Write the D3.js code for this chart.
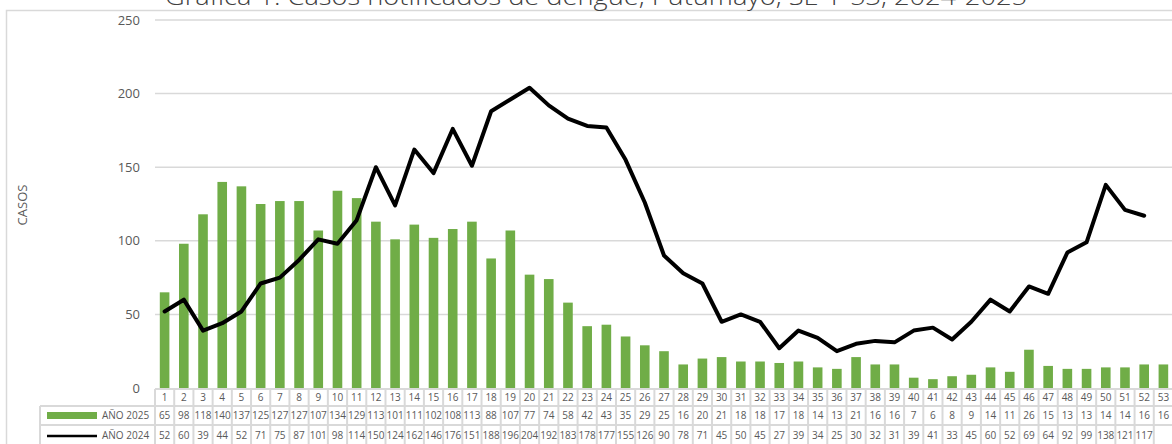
<!DOCTYPE html>
<html><head><meta charset="utf-8">
<script src="https://cdn.jsdelivr.net/npm/d3@7"></script>
<style>body{margin:0;background:#fff;} svg{display:block;}</style>
</head><body>
<svg id="chart" width="1172" height="444"></svg>
<script>
const title = "Gráfica 1. Casos notificados de dengue, Putumayo, SE 1-53, 2024-2025";
const weeks = d3.range(1, 54).map(String);
const yTicks = [0, 50, 100, 150, 200, 250];
const series2025Name = "AÑO 2025";
const series2024Name = "AÑO 2024";
const values2025 = [65,98,118,140,137,125,127,127,107,134,129,113,101,111,102,108,113,88,107,77,74,58,42,43,35,29,25,16,20,21,18,18,17,18,14,13,21,16,16,7,6,8,9,14,11,26,15,13,13,14,14,16,16];
const values2024 = [52,60,39,44,52,71,75,87,101,98,114,150,124,162,146,176,151,188,196,204,192,183,178,177,155,126,90,78,71,45,50,45,27,39,34,25,30,32,31,39,41,33,45,60,52,69,64,92,99,138,121,117];

(function () {
const svg = d3.select("#chart");
const W = 1172, H = 444;
const pLeft = 155, pRight = 1173, pTop = 20, pBottom = 388;
const grey = "#d9d9d9", txt = "#595959";
const green = "#70ad47";

svg.append("rect").attr("x", 6.5).attr("y", 10.5).attr("width", 1180).attr("height", 460)
  .attr("fill", "none").attr("stroke", grey).attr("stroke-width", 1.5);

svg.append("text").attr("x", 596).attr("y", 5).attr("text-anchor", "middle")
  .attr("font-family", "Open Sans").attr("font-weight", 300).attr("font-size", 24)
  .attr("textLength", 862).attr("lengthAdjust", "spacingAndGlyphs")
  .attr("fill", "#404040").text(title);

const x = d3.scaleBand().domain(weeks).range([pLeft, pRight]);
const y = d3.scaleLinear().domain([0, 250]).range([pBottom, pTop]);

svg.append("g").selectAll("line").data(yTicks.filter(d => d > 0)).join("line")
  .attr("x1", pLeft).attr("x2", W).attr("y1", d => y(d)).attr("y2", d => y(d))
  .attr("stroke", grey).attr("stroke-width", 1.5);

const yAxis = svg.append("g").attr("transform", `translate(${pLeft - 15},0)`)
  .call(d3.axisLeft(y).tickValues(yTicks).tickSize(0).tickPadding(0));
yAxis.select(".domain").remove();
yAxis.selectAll("text").attr("font-family", "Open Sans").attr("font-size", 13).attr("fill", txt);

svg.append("text").attr("transform", `translate(27,205) rotate(-90)`).attr("text-anchor", "middle")
  .attr("font-family", "Open Sans").attr("font-size", 13).attr("fill", txt).text("CASOS");

const bw = x.bandwidth() * 0.5;
svg.append("g").selectAll("rect").data(values2025).join("rect")
  .attr("x", (d, i) => x(weeks[i]) + (x.bandwidth() - bw) / 2)
  .attr("width", bw)
  .attr("y", d => y(d)).attr("height", d => y(0) - y(d))
  .attr("fill", green);

const line = d3.line().x((d, i) => x(weeks[i]) + x.bandwidth() / 2).y(d => y(d));
svg.append("path").datum(values2024).attr("d", line).attr("fill", "none")
  .attr("stroke", "#000").attr("stroke-width", 4).attr("stroke-linejoin", "round").attr("stroke-linecap", "round");

const rowY = [389, 406, 425, 446];
const tbl = svg.append("g");
function styleText(sel) { return sel.attr("font-family", "Open Sans").attr("font-size", 10).attr("fill", txt); }

tbl.append("line").attr("x1", pLeft).attr("x2", W).attr("y1", rowY[0]).attr("y2", rowY[0]).attr("stroke", grey).attr("stroke-width", 2);
[1, 2].forEach(r => tbl.append("line").attr("x1", 40).attr("x2", W).attr("y1", rowY[r]).attr("y2", rowY[r]).attr("stroke", grey).attr("stroke-width", 2));
weeks.forEach(w => {
  tbl.append("line").attr("x1", x(w)).attr("x2", x(w)).attr("y1", rowY[0]).attr("y2", H).attr("stroke", grey).attr("stroke-width", 2);
});
tbl.append("line").attr("x1", 40).attr("x2", 40).attr("y1", rowY[1]).attr("y2", H).attr("stroke", grey).attr("stroke-width", 2);

styleText(tbl.append("g").selectAll("text").data(weeks).join("text")
  .attr("x", d => x(d) + x.bandwidth() / 2).attr("y", (rowY[0] + rowY[1]) / 2 + 3.5)
  .attr("text-anchor", "middle").text(d => d));
styleText(tbl.append("g").selectAll("text").data(values2025).join("text")
  .attr("x", (d, i) => x(weeks[i]) + x.bandwidth() / 2).attr("y", (rowY[1] + rowY[2]) / 2 + 3.5)
  .attr("text-anchor", "middle").text(d => d));
styleText(tbl.append("g").selectAll("text").data(values2024).join("text")
  .attr("x", (d, i) => x(weeks[i]) + x.bandwidth() / 2).attr("y", (rowY[2] + rowY[3]) / 2 + 3.5)
  .attr("text-anchor", "middle").text(d => d));

tbl.append("rect").attr("x", 47).attr("y", 412).attr("width", 50).attr("height", 7).attr("fill", green);
styleText(tbl.append("text").attr("x", 102).attr("y", (rowY[1] + rowY[2]) / 2 + 3.5).text(series2025Name));
tbl.append("line").attr("x1", 47).attr("x2", 97).attr("y1", 436).attr("y2", 436).attr("stroke", "#000").attr("stroke-width", 2.5);
styleText(tbl.append("text").attr("x", 102).attr("y", (rowY[2] + rowY[3]) / 2 + 3.5).text(series2024Name));
})();
</script>
</body></html>
